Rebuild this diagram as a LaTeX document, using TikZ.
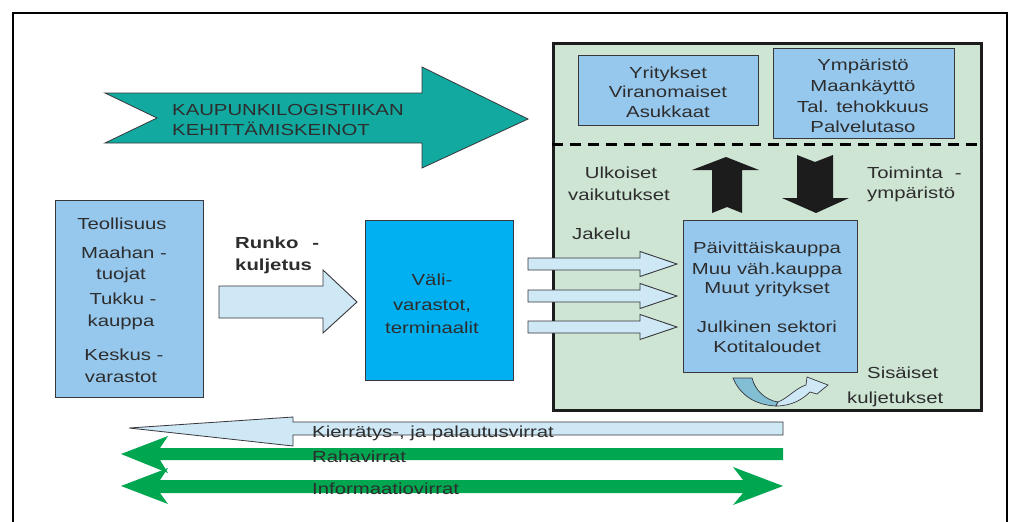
\documentclass[tikz,border=0pt]{standalone}
\usepackage{fontspec}
\setmainfont{Liberation Sans}[FakeStretch=1.27]
\definecolor{txtc}{RGB}{45,45,45}
\definecolor{lblue}{RGB}{150,200,238}
\definecolor{vblue}{RGB}{0,176,240}
\definecolor{gbg}{RGB}{206,229,212}
\definecolor{teal}{RGB}{18,170,160}
\definecolor{pale}{RGB}{206,232,246}
\definecolor{grn}{RGB}{0,166,80}
\definecolor{blk}{RGB}{28,28,28}
\definecolor{edge}{RGB}{55,55,60}
\definecolor{midblue}{RGB}{130,190,212}
\begin{document}
\begin{tikzpicture}[x=1pt,y=-1pt,
  txt/.style={font=\fontsize{16}{20}\selectfont, text=txtc, inner sep=0pt, anchor=base},
  ltxt/.style={txt, anchor=base west},
  box/.style={draw=edge, line width=1pt, fill=lblue, inner sep=0pt},
  blockarrow/.style={draw=edge, line width=0.9pt, fill=pale, line join=miter},
  greenarrow/.style={fill=grn, draw=none}]
\useasboundingbox (0,0) rectangle (1015,522);
\fill[white] (0,0) rectangle (1015,522);
% outer frame
\draw[line width=2.2pt] (13,522) -- (13,13) -- (1007,13) -- (1007,522);

% green region
\node[draw=blk, line width=3pt, fill=gbg, minimum width=428pt, minimum height=367pt, inner sep=0pt] (region) at (767,226.5) {};
\draw[line width=3pt, dash pattern=on 11pt off 7pt] (region.west |- 0,144) -- (region.east |- 0,144);

% top boxes
\node[box, minimum width=180pt, minimum height=70pt] (actors) at (668,90) {};
\node[txt] (a1) at (668,78) {Yritykset};
\node[txt] (a2) at (668,97.5) {Viranomaiset};
\node[txt] (a3) at (668,117) {Asukkaat};

\node[box, minimum width=181pt, minimum height=90pt] (goals) at (863.5,93) {};
\node[txt] (g1) at (863,70) {Ympäristö};
\node[txt] (g2) at (863,91) {Maankäyttö};
\node[txt] (g3) at (863,112) {Tal. tehokkuus};
\node[txt] (g4) at (863,132) {Palvelutaso};

% teal arrow
\fill[teal, draw=edge, line width=0.8pt] (105,93) -- (422,93) -- (422,67) -- (528,119) -- (422,168) -- (422,143) -- (105,143) -- (157,118) -- cycle;
\node[ltxt] (k1) at (172,115) {KAUPUNKILOGISTIIKAN};
\node[ltxt] (k2) at (172,135) {KEHITTÄMISKEINOT};

% source box
\node[box, minimum width=148pt, minimum height=197pt] (src) at (129,298.5) {};
\node[txt] (s1) at (122,229) {Teollisuus};
\node[txt] (s2) at (124,258) {Maahan -};
\node[txt] (s3) at (121,279) {tuojat};
\node[txt] (s4) at (123,304) {Tukku -};
\node[txt] (s5) at (121,326) {kauppa};
\node[txt] (s6) at (124,360) {Keskus -};
\node[txt] (s7) at (121,382) {varastot};

% runko arrow
\draw[blockarrow] (219,286) -- (323,286) -- (323,270) -- (357,302) -- (323,333) -- (323,318) -- (219,318) -- cycle;
\node[ltxt, font=\bfseries\fontsize{16}{20}\selectfont] (r1) at (235,248) {Runko\hspace{14pt}-};
\node[ltxt, font=\bfseries\fontsize{16}{20}\selectfont] (r2) at (235,270) {kuljetus};

% terminal box
\node[draw=edge, line width=1pt, fill=vblue, minimum width=148pt, minimum height=160pt, inner sep=0pt] (term) at (439,300) {};
\node[txt] (v1) at (432,285) {Väli-};
\node[txt] (v2) at (432,310) {varastot,};
\node[txt] (v3) at (432,333) {terminaalit};

% jakelu arrows
\foreach \yy/\nm in {264/j1,296/j2,327/j3}{
  \draw[blockarrow] (528,\yy-6) -- (640,\yy-6) -- (640,\yy-12.5) -- (677,\yy) -- (640,\yy+12.5) -- (640,\yy+6) -- (528,\yy+6) -- cycle;
}
\node[ltxt] (jak) at (572,239) {Jakelu};

% receivers box
\node[box, minimum width=174pt, minimum height=152pt] (recv) at (770,296) {};
\node[txt] (p1) at (767,253) {Päivittäiskauppa};
\node[txt] (p2) at (767,274) {Muu väh.kauppa};
\node[txt] (p3) at (767,293) {Muut yritykset};
\node[txt] (p4) at (767,332) {Julkinen sektori};
\node[txt] (p5) at (767,352) {Kotitaloudet};

% black arrows
\fill[blk] (712,213) -- (712,170) -- (692,170) -- (726,157) -- (759,170) -- (742,170) -- (742,213) -- (727,207) -- cycle;
\fill[blk] (797,155) -- (815,162) -- (833,155) -- (833,198) -- (849,198) -- (816,213) -- (782,198) -- (797,198) -- cycle;
\node[txt] (u1) at (621,178) {Ulkoiset};
\node[txt] (u2) at (619,200) {vaikutukset};
\node[ltxt] (o1) at (867,178) {Toiminta\hspace{12pt}-};
\node[ltxt] (o2) at (867,198) {ympäristö};

% internal transport curved arrow
\filldraw[fill=midblue, draw=edge, line width=0.7pt] (733,378) -- (752,378) .. controls (755,390) and (765,400) .. (778,402) -- (776,406) .. controls (755,405) and (740,395) .. (733,378) -- cycle;
\filldraw[fill=pale, draw=edge, line width=0.7pt] (776,406) .. controls (792,406) and (803,399) .. (810,392) -- (817,394) -- (828,385) -- (807,377) -- (806,385) .. controls (796,388) and (788,398) .. (778,402) -- cycle;
\node[ltxt] (si1) at (867,378) {Sisäiset};
\node[ltxt] (si2) at (847,403) {kuljetukset};

% bottom flows
\draw[blockarrow, line width=0.8pt] (783,422) -- (293,422) -- (293,417) -- (129,428) -- (293,446) -- (293,435) -- (783,435) -- cycle;
\fill[greenarrow] (783,448) -- (783,460) -- (160,460) -- (168,473) -- (121,454) -- (168,436) -- (160,448) -- cycle;
\fill[greenarrow] (743,480) -- (733,467) -- (783,486) -- (733,505) -- (743,493) -- (160,493) -- (168,504) -- (121,486) -- (168,468) -- (160,480) -- cycle;
\node[ltxt] (f1) at (312,437) {Kierrätys-, ja palautusvirrat};
\node[ltxt] (f2) at (312,462) {Rahavirrat};
\node[ltxt] (f3) at (312,494) {Informaatiovirrat};
\end{tikzpicture}
\end{document}
